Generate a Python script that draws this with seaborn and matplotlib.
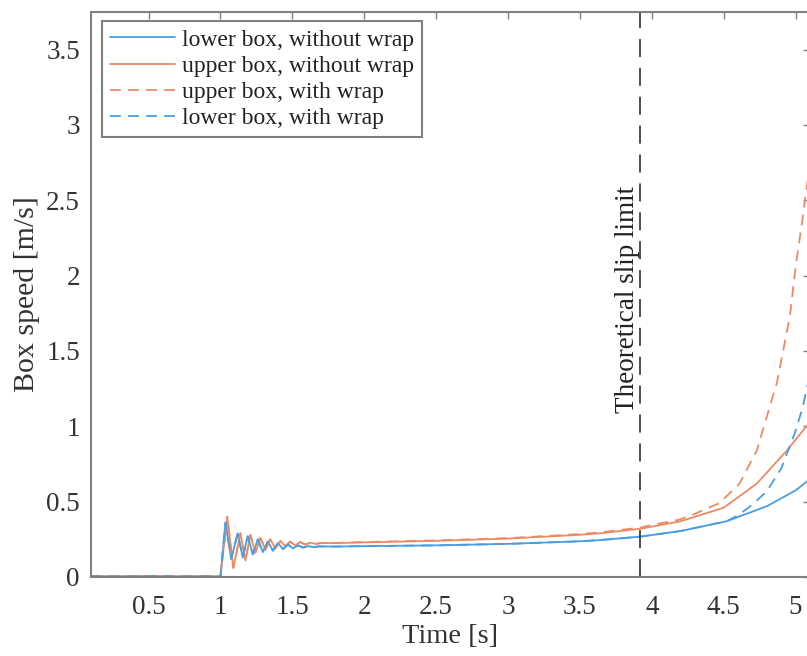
import numpy as np
import pandas as pd
import seaborn as sns
from matplotlib import pyplot as plt

# values (time [s], speed [m/s])
start_t = [0.1, 0.3, 0.5, 0.7, 0.9, 1.0]
start_v = [0.005, 0.004, 0.006, 0.004, 0.005, 0.003]

# lower box: ringing after the step at t = 1 s, then slow rise
lower_ring_t = [1.035, 1.075, 1.12, 1.155, 1.19, 1.225, 1.26, 1.295, 1.33, 1.365,
                1.40, 1.435, 1.47, 1.505, 1.54, 1.575, 1.61, 1.645, 1.68]
lower_ring_v = [0.36, 0.12, 0.29, 0.13, 0.27, 0.15, 0.25, 0.165, 0.235, 0.175,
                0.225, 0.185, 0.215, 0.19, 0.21, 0.195, 0.205, 0.198, 0.203]
lower_mid_t = [1.8, 2.0, 2.5, 3.0, 3.5, 3.64, 3.92, 4.2, 4.52]
lower_mid_v = [0.202, 0.205, 0.21, 0.22, 0.237, 0.245, 0.268, 0.305, 0.37]
lower_nowrap_end_t = [4.8, 5.0, 5.1]
lower_nowrap_end_v = [0.47, 0.575, 0.65]
lower_wrap_end_t = [4.6, 4.7, 4.8, 4.9, 5.0, 5.05, 5.1]
lower_wrap_end_v = [0.41, 0.48, 0.57, 0.72, 0.97, 1.13, 1.35]

# upper box
upper_ring_t = [1.047, 1.09, 1.139, 1.174, 1.208, 1.243, 1.278, 1.313, 1.347, 1.382,
                1.417, 1.45, 1.486, 1.52, 1.555, 1.59, 1.625, 1.66, 1.7]
upper_ring_v = [0.40, 0.06, 0.29, 0.11, 0.28, 0.16, 0.26, 0.18, 0.25, 0.19,
                0.24, 0.205, 0.235, 0.21, 0.232, 0.215, 0.228, 0.22, 0.225]
upper_nowrap_t = [1.8, 2.0, 2.5, 3.0, 3.5, 3.64, 3.92, 4.2, 4.5, 4.73, 4.94, 5.1]
upper_nowrap_v = [0.225, 0.23, 0.24, 0.255, 0.28, 0.29, 0.32, 0.37, 0.46, 0.62, 0.84, 1.03]
upper_wrap_t = [1.8, 2.0, 2.5, 3.0, 3.5, 3.64, 3.92, 4.0, 4.19, 4.3, 4.47, 4.61,
                4.73, 4.87, 4.96, 5.0, 5.05, 5.1]
upper_wrap_v = [0.226, 0.232, 0.243, 0.258, 0.285, 0.296, 0.328, 0.345, 0.38, 0.42,
                0.49, 0.62, 0.84, 1.29, 1.73, 2.06, 2.39, 2.75]

slip_limit = 3.92

BLUE = '#4a9de0'
ORANGE = '#ec8a66'

series = [
    ('lower box, without wrap', start_t + lower_ring_t + lower_mid_t + lower_nowrap_end_t,
     start_v + lower_ring_v + lower_mid_v + lower_nowrap_end_v, BLUE, ''),
    ('upper box, without wrap', start_t + upper_ring_t + upper_nowrap_t,
     start_v + upper_ring_v + upper_nowrap_v, ORANGE, ''),
    ('upper box, with wrap', start_t + upper_ring_t + upper_wrap_t,
     start_v + upper_ring_v + upper_wrap_v, ORANGE, (6, 4)),
    ('lower box, with wrap', start_t + lower_ring_t + lower_mid_t + lower_wrap_end_t,
     start_v + lower_ring_v + lower_mid_v + lower_wrap_end_v, BLUE, (6, 4)),
]

sns.set_style('white')
plt.rcParams['font.family'] = ['Liberation Serif', 'DejaVu Serif']

fig = plt.figure(figsize=(8.07, 6.56), dpi=100)
# right edge of the axes falls just outside the picture, as in the reference
ax = fig.add_axes([91 / 807, 79 / 656, 719 / 807, 565 / 656])

for name, t, v, color, dash in series:
    df = pd.DataFrame({'t': t, 'v': v})
    sns.lineplot(data=df, x='t', y='v', ax=ax, color=color, linewidth=1.3,
                 label=name, estimator=None, sort=True)
    if dash:
        ax.lines[-1].set_dashes(dash)

ax.axvline(slip_limit, color='#404040', linewidth=1.3, dashes=(10, 6))
ax.text(slip_limit - 0.003, 1.84, 'Theoretical slip limit', rotation=90,
        ha='right', va='center', fontsize=19.5, color='#222222')

ax.set_xlim(0.1, 5.1)
ax.set_ylim(0, 3.75)
ax.set_xticks(np.arange(0.5, 5.01, 0.5))
ax.set_xticklabels(['0.5', '1', '1.5', '2', '2.5', '3', '3.5', '4', '4.5', '5'])
ax.set_yticks(np.arange(0, 3.51, 0.5))
ax.set_yticklabels(['0', '0.5', '1', '1.5', '2', '2.5', '3', '3.5'])
ax.tick_params(direction='in', length=5, width=1.0, color='#808080',
               labelsize=19.5, labelcolor='#333333', top=True, right=True)
ax.tick_params(axis='x', pad=13)
ax.tick_params(axis='y', pad=8)
for s in ax.spines.values():
    s.set_color('#808080')
    s.set_linewidth(1.5)

ax.set_xlabel('Time [s]', fontsize=20.5, color='#333333', labelpad=3)
ax.set_ylabel('Box speed [m/s]', fontsize=21.5, color='#333333', labelpad=4)

leg = ax.legend(loc='upper left', bbox_to_anchor=(11 / 719, 1 - 9 / 565),
                borderaxespad=0, fontsize=17, handlelength=2.75, handletextpad=0.3,
                labelspacing=0.2, borderpad=0.34, fancybox=False,
                framealpha=1, edgecolor='#808080')
leg.get_frame().set_linewidth(1.5)
for txt in leg.get_texts():
    txt.set_color('#222222')

fig.savefig('out.png', dpi=100)
